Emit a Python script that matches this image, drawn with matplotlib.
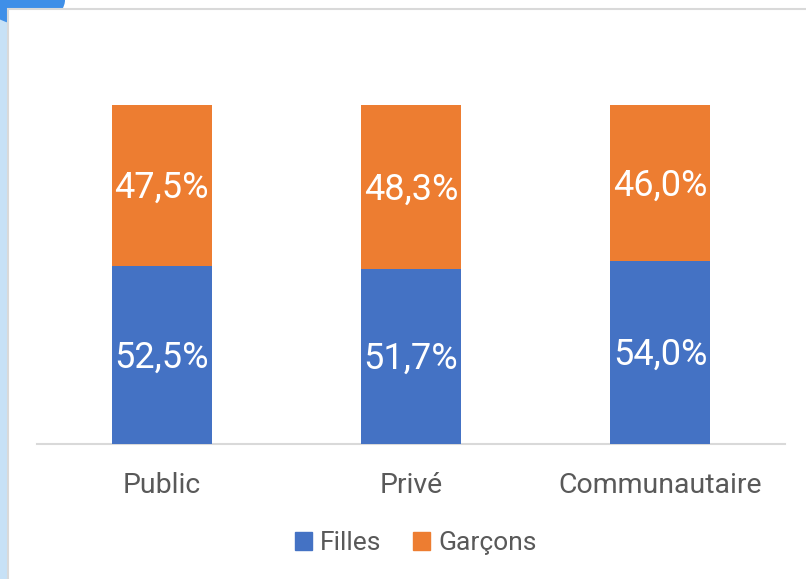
import matplotlib.pyplot as plt
import matplotlib.patches as mpatches
import numpy as np

plt.rcParams['font.family'] = ['Roboto', 'DejaVu Sans']

categories = ["Public", "Privé", "Communautaire"]
filles = [52.5, 51.7, 54.0]
garcons = [47.5, 48.3, 46.0]
series_names = ["Filles", "Garçons"]

blue = "#4472C4"
orange = "#ED7D31"
gray_txt = "#595959"

W, H = 806, 579
fig = plt.figure(figsize=(W / 100, H / 100), dpi=100)
fig.patch.set_facecolor("white")

# screenshot frame: light blue strip on the left, thin gray border
fig.patches.append(mpatches.Rectangle((0, 0), 8 / W, 1, transform=fig.transFigure,
                                      facecolor="#c7e1f6", edgecolor="none", zorder=-3))
fig.patches.append(mpatches.Ellipse((25 / W, 1 - 0 / H), 80 / W, 50 / H, transform=fig.transFigure,
                                    facecolor="#3f8fe8", edgecolor="none", zorder=-2))
fig.patches.append(mpatches.Rectangle((8 / W, -0.01), 1, 1 - 9 / H + 0.01, transform=fig.transFigure,
                                      facecolor="white", edgecolor="#d9d9d9", linewidth=1.5, zorder=-1))

# axes: baseline at y=444, 100% at y=105, x from 37 to 785
left, right = 37 / W, 785 / W
bottom, top = 1 - 444 / H, 1 - 105 / H
ax = fig.add_axes([left, bottom, right - left, top - bottom])
ax.set_facecolor("none")
ax.set_zorder(5)

x = np.arange(len(categories))
width = 0.4
ax.bar(x, filles, width, color=blue, label=series_names[0], zorder=3)
ax.bar(x, garcons, width, bottom=filles, color=orange, label=series_names[1], zorder=3)

for i in range(len(categories)):
    ax.text(x[i], filles[i] / 2 - 0.8, f"{filles[i]:.1f}%".replace(".", ","), ha="center", va="center",
            color="white", fontsize=26, zorder=4)
    ax.text(x[i], filles[i] + garcons[i] / 2 - 0.8, f"{garcons[i]:.1f}%".replace(".", ","), ha="center",
            va="center", color="white", fontsize=26, zorder=4)

ax.set_xlim(-0.5, 2.5)
ax.set_ylim(0, 100)
ax.set_yticks([])
ax.set_xticks(x)
ax.set_xticklabels(categories, fontsize=20.5, color=gray_txt)
ax.tick_params(axis="x", length=0, pad=20)
for s in ["top", "right", "left"]:
    ax.spines[s].set_visible(False)
ax.spines["bottom"].set_color("#d9d9d9")
ax.spines["bottom"].set_linewidth(1.5)

handles = [mpatches.Patch(color=blue, label=series_names[0]),
           mpatches.Patch(color=orange, label=series_names[1])]
fig.legend(handles=handles, loc="center", bbox_to_anchor=(416 / W, 1 - 543 / H), ncol=2,
           frameon=False, fontsize=19, labelcolor=gray_txt, handlelength=0.65, handleheight=0.65,
           handletextpad=0.3, columnspacing=1.2)

fig.savefig("out.png", dpi=100)
